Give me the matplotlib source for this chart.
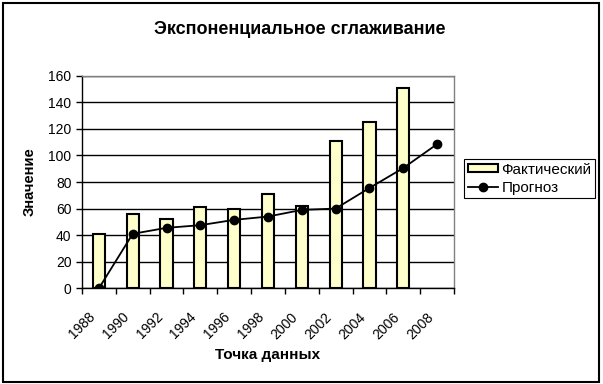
import numpy as np
import matplotlib.pyplot as plt
from matplotlib.patches import Rectangle
from matplotlib.lines import Line2D
from matplotlib.transforms import ScaledTranslation

plt.rcParams['font.family'] = ['Liberation Sans', 'DejaVu Sans']

# --- data ---
years = ['1988', '1990', '1992', '1994', '1996', '1998', '2000', '2002', '2004', '2006', '2008']
actual = [41, 56, 52, 61, 60, 71, 62, 111, 125, 151, np.nan]
forecast = [0, 41, 45.5, 47.5, 51.5, 54, 59, 60, 75.5, 90.5, 108.5]

W, H = 603, 384
fig = plt.figure(figsize=(W / 100, H / 100), dpi=100)

# outer chart border
fig.patches.append(Rectangle((2.5 / W, 2.5 / H), 596 / W, 378.5 / H, transform=fig.transFigure,
                             fill=False, edgecolor='black', linewidth=1.5))

ax = fig.add_axes([82 / W, 1 - 288.3 / H, (454 - 82) / W, (288.3 - 75.7) / H])
x = np.arange(len(years))

ax.bar(x, actual, width=0.36, color='#FFFFCC', edgecolor='black', linewidth=1.5, zorder=2)
ax.plot(x, forecast, color='black', linewidth=1.3, marker='o', markersize=6, zorder=3)

ax.set_xlim(-0.5, len(years) - 0.5)
ax.set_ylim(0, 160)
ax.set_yticks(np.arange(0, 161, 20))
ax.yaxis.grid(True, color='black', linewidth=1, zorder=0)
ax.set_axisbelow(True)

# category boundaries as ticks, labels centred in each category
ax.set_xticks(np.arange(-0.5, len(years), 1))
ax.set_xticklabels([])
ax.set_xticks(x, minor=True)
ax.set_xticklabels(years, minor=True, rotation=45, ha='right', va='top',
                   rotation_mode='anchor', fontsize=10)
ax.tick_params(axis='x', which='minor', length=0, pad=9)
ax.tick_params(axis='both', which='major', length=4, width=1, direction='out', labelsize=10)
shift = ScaledTranslation(-11 / 100, -9 / 100, fig.dpi_scale_trans)
for lab in ax.get_xticklabels(minor=True):
    lab.set_transform(lab.get_transform() + shift)

for side in ['top', 'right']:
    ax.spines[side].set_color('#808080')
    ax.spines[side].set_linewidth(1)
for side in ['left', 'bottom']:
    ax.spines[side].set_linewidth(1)

fig.text(300 / W, 1 - 30 / H, 'Экспоненциальное сглаживание', ha='center', va='center',
         fontsize=13, fontweight='bold')
fig.text(268 / W, 1 - 355 / H, 'Точка данных', ha='center', va='center',
         fontsize=11, fontweight='bold')
fig.text(30 / W, 1 - 182 / H, 'Значение', ha='center', va='center', rotation=90,
         fontsize=10.6, fontweight='bold')

handles = [Rectangle((0, 0), 1, 1, facecolor='#FFFFCC', edgecolor='black', linewidth=1.5),
           Line2D([], [], color='black', linewidth=1.3, marker='o', markersize=6)]
leg = fig.legend(handles, ['Фактический', 'Прогноз'], loc='upper left',
                 bbox_to_anchor=(464 / W, 1 - 159 / H), fontsize=11, frameon=True,
                 fancybox=False, edgecolor='black', framealpha=1, borderpad=0.25,
                 handlelength=2.0, handleheight=0.45, handletextpad=0.2,
                 labelspacing=0.25, borderaxespad=0)
leg.get_frame().set_linewidth(0.8)

fig.savefig('out.png', dpi=100)
